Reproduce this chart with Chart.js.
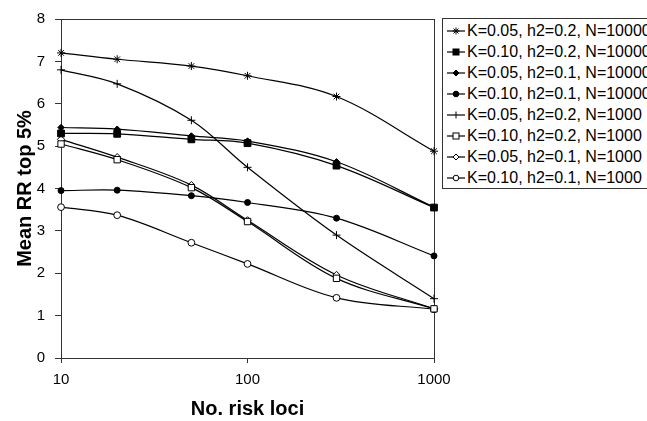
<!DOCTYPE html>
<html>
<head>
<meta charset="utf-8">
<script src="https://cdn.jsdelivr.net/npm/chart.js@4"></script>
<style>
html, body { margin: 0; padding: 0; background: #fff; overflow: hidden; }
#wrap { position: relative; width: 647px; height: 421px; }
#legend {
    position: absolute; left: 442px; top: 18px; width: 215px;
    border: 1px solid #333; padding: 1px 0 0 4px; background: #fff;
    font: 16px "Liberation Sans", Arial, sans-serif; color: #000;
}
#legend .row { height: 21px; display: flex; align-items: center; white-space: nowrap; }
#legend svg { margin-right: 2px; flex: none; }
</style>
</head>
<body>
<div id="wrap">
    <canvas id="rr_canvas" width="647" height="421"></canvas>
    <div id="legend"></div>
</div>
<script>
// number of risk loci (x axis, log scale)
var loci = [10, 20, 50, 100, 300, 1000];
var xTicks = [10, 100, 1000];

var series_names = [
    'K=0.05, h2=0.2, N=10000',
    'K=0.10, h2=0.2, N=10000',
    'K=0.05, h2=0.1, N=10000',
    'K=0.10, h2=0.1, N=10000',
    'K=0.05, h2=0.2, N=1000',
    'K=0.10, h2=0.2, N=1000',
    'K=0.05, h2=0.1, N=1000',
    'K=0.10, h2=0.1, N=1000'
];

// mean RR of top 5%
var k05_h02_n10000 = [7.20, 7.05, 6.89, 6.66, 6.17, 4.88];
var k10_h02_n10000 = [5.30, 5.29, 5.16, 5.07, 4.54, 3.55];
var k05_h01_n10000 = [5.44, 5.40, 5.24, 5.12, 4.63, 3.56];
var k10_h01_n10000 = [3.95, 3.96, 3.83, 3.67, 3.30, 2.41];
var k05_h02_n1000 = [6.80, 6.47, 5.61, 4.50, 2.90, 1.40];
var k10_h02_n1000 = [5.05, 4.68, 4.02, 3.22, 1.88, 1.16];
var k05_h01_n1000 = [5.16, 4.74, 4.08, 3.25, 1.96, 1.16];
var k10_h01_n1000 = [3.56, 3.37, 2.72, 2.22, 1.42, 1.15];

var all_values = [k05_h02_n10000, k10_h02_n10000, k05_h01_n10000, k10_h01_n10000,
                  k05_h02_n1000, k10_h02_n1000, k05_h01_n1000, k10_h01_n1000];

// marker look per series
var markers = [
    { style: 'star', radius: 4, filled: false },
    { style: 'rect', radius: 4.8, filled: true },
    { style: 'rectRot', radius: 3.2, filled: true },
    { style: 'circle', radius: 3, filled: true },
    { style: 'cross', radius: 4, filled: false },
    { style: 'rect', radius: 4.5, filled: false },
    { style: 'rectRot', radius: 3.6, filled: false },
    { style: 'circle', radius: 3.4, filled: false }
];

var fam = '"Liberation Sans", Arial, sans-serif';

function legend_icon(m) {
    var f = m.filled ? '#000' : '#fff';
    var s = '';
    if (m.style == 'star') {
        s = '<path d="M9 2.5V9.5M5.5 6H12.5M6.5 3.5L11.5 8.5M11.5 3.5L6.5 8.5" stroke="#000" stroke-width="1"/>';
    } else if (m.style == 'rect') {
        s = '<rect x="6" y="3" width="6" height="6" fill="' + f + '" stroke="#000" stroke-width="1"/>';
    } else if (m.style == 'rectRot') {
        s = '<path d="M9 3L12 6L9 9L6 6Z" fill="' + f + '" stroke="#000" stroke-width="1"/>';
    } else if (m.style == 'circle') {
        s = '<circle cx="9" cy="6" r="2.8" fill="' + f + '" stroke="#000" stroke-width="1"/>';
    } else if (m.style == 'cross') {
        s = '<path d="M9 2.5V9.5" stroke="#000" stroke-width="1"/>';
    }
    return '<svg width="18" height="12" viewBox="0 0 18 12">' +
        '<line x1="0" y1="6" x2="18" y2="6" stroke="#000" stroke-width="1.2"/>' + s + '</svg>';
}

function build_legend() {
    var box = document.getElementById('legend');
    var html = '';
    for (var i = 0; i < series_names.length; i++) {
        html += '<div class="row">' + legend_icon(markers[i]) + '<span>' + series_names[i] + '</span></div>';
    }
    box.innerHTML = html;
}

// frame around the plot area, like the Excel plot box
var plotBox = {
    id: 'plotBox',
    beforeDatasetsDraw(chart) {
        var a = chart.chartArea;
        var ctx = chart.ctx;
        ctx.save();
        ctx.strokeStyle = '#333';
        ctx.lineWidth = 1;
        ctx.strokeRect(Math.round(a.left) + 0.5, Math.round(a.top) + 0.5,
                       Math.round(a.right - a.left), Math.round(a.bottom - a.top));
        ctx.restore();
    }
};

function rr_chart() {
    var ctx = document.getElementById('rr_canvas');
    var datasets = [];
    for (var i = 0; i < all_values.length; i++) {
        var pts = [];
        for (var j = 0; j < loci.length; j++) {
            pts.push({ x: loci[j], y: all_values[i][j] });
        }
        datasets.push({
            label: series_names[i],
            data: pts,
            borderColor: '#000',
            borderWidth: 1.2,
            tension: 0.35,
            fill: false,
            clip: false,
            pointStyle: markers[i].style,
            pointRadius: markers[i].radius,
            pointBorderColor: '#000',
            pointBorderWidth: 1,
            pointBackgroundColor: markers[i].filled ? '#000' : '#fff'
        });
    }
    new Chart(ctx, {
        type: 'line',
        data: { datasets: datasets },
        options: {
            responsive: false,
            animation: false,
            layout: { padding: { left: 0, top: 14, right: 213, bottom: 0 } },
            plugins: {
                legend: { display: false },
                tooltip: { enabled: false }
            },
            scales: {
                x: {
                    type: 'logarithmic',
                    min: 10,
                    max: 1000,
                    afterBuildTicks: function (s) {
                        s.ticks = xTicks.map(function (v) { return { value: v }; });
                    },
                    ticks: {
                        callback: function (v) { return String(v); },
                        font: { family: fam, size: 15 },
                        color: '#000',
                        padding: 8,
                        maxRotation: 0,
                        autoSkip: false
                    },
                    grid: { drawOnChartArea: false, tickLength: 5, color: '#333' },
                    border: { color: '#333', width: 1 },
                    title: {
                        display: true,
                        text: 'No. risk loci',
                        color: '#000',
                        font: { family: fam, size: 20, weight: 'bold' },
                        padding: { top: 0, bottom: 0 }
                    }
                },
                y: {
                    min: 0,
                    max: 8,
                    ticks: {
                        stepSize: 1,
                        font: { family: fam, size: 15 },
                        color: '#000',
                        padding: 10
                    },
                    grid: { drawOnChartArea: false, tickLength: 6, color: '#333' },
                    border: { color: '#333', width: 1 },
                    title: {
                        display: true,
                        text: 'Mean RR top 5%',
                        color: '#000',
                        font: { family: fam, size: 20, weight: 'bold' },
                        padding: { top: 13.5, bottom: -10.8 }
                    }
                }
            }
        },
        plugins: [plotBox]
    });
}

build_legend();
rr_chart();
</script>
</body>
</html>
